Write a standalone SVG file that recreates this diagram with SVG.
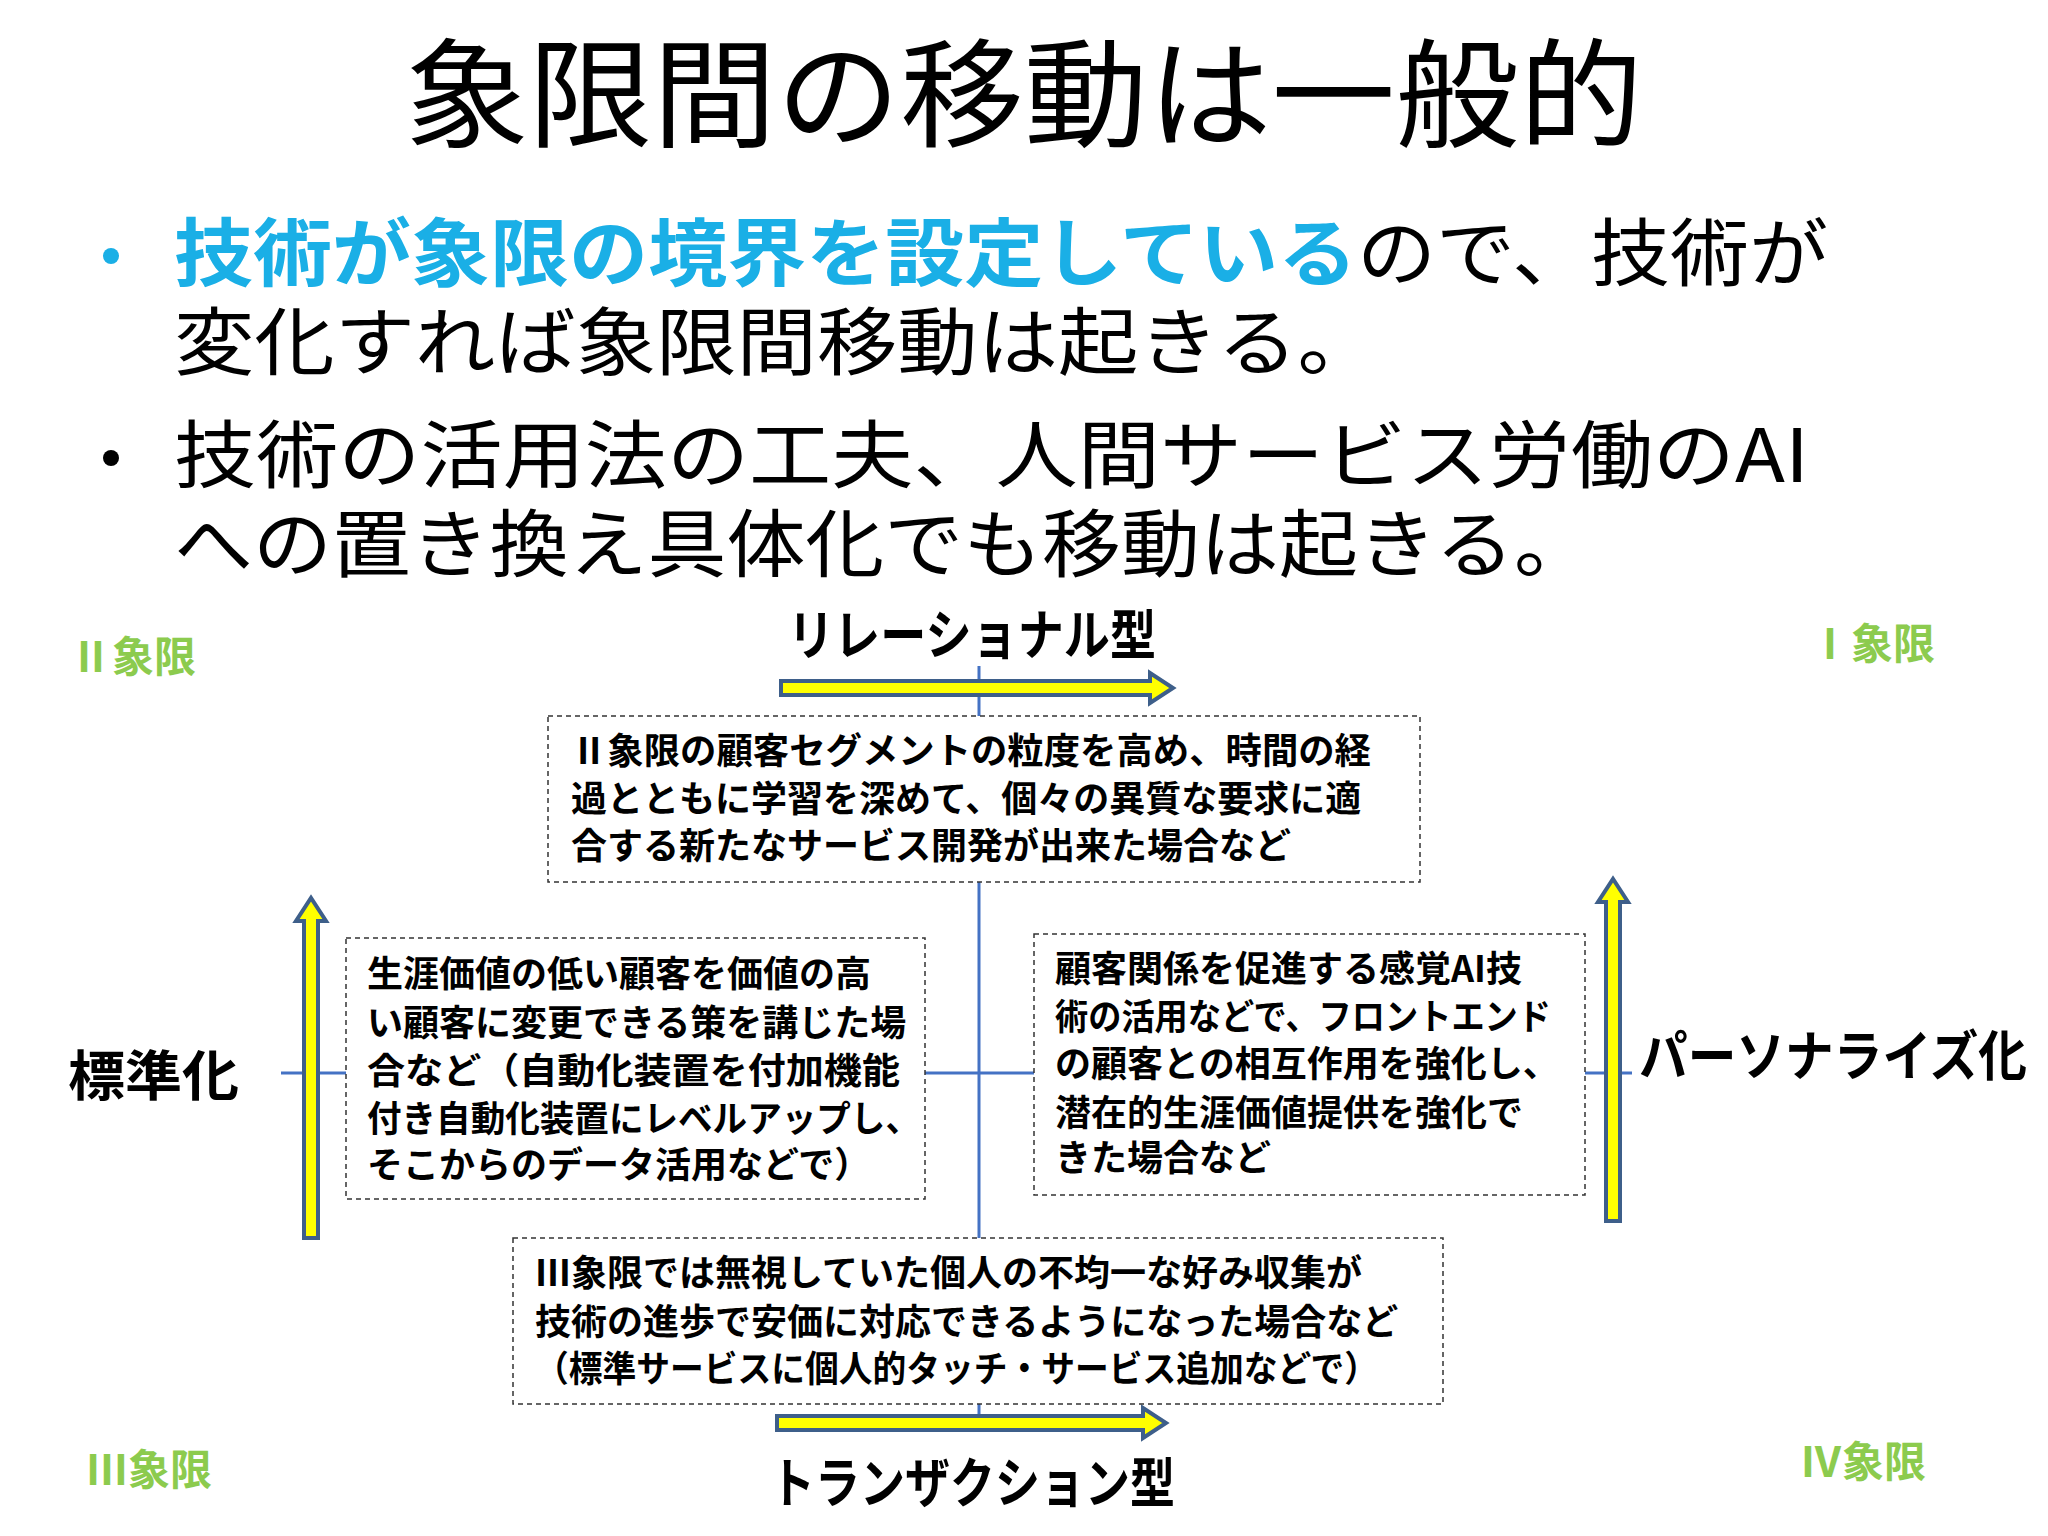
<svg xmlns="http://www.w3.org/2000/svg" width="2048" height="1536" viewBox="0 0 2048 1536">
<style>
text{font-family:"Noto Sans CJK JP","Noto Sans",sans-serif}
.t{font-size:118px}
.b{font-size:74px}
.bl{fill:#1AAFE6;font-weight:bold}
.bx{fill:#fff;stroke:#333;stroke-width:1.5;stroke-dasharray:5,4}
.bt{font-size:36px;font-weight:bold}
.ax{font-size:54px;font-weight:bold}
.q{font-size:42px;font-weight:bold;fill:#8CCB4E}
.ar{fill:#FFFF00;stroke:#3E5F8A;stroke-width:4}
.ln{stroke:#4472C4;stroke-width:3;fill:none}
</style>
<rect width="2048" height="1536" fill="#fff"/>
<text class="t" x="405" y="138" textLength="1238" lengthAdjust="spacingAndGlyphs">象限間の移動は一般的</text>
<circle cx="111" cy="256" r="8" fill="#1AAFE6"/>
<text class="b" x="174" y="280" textLength="1654" lengthAdjust="spacingAndGlyphs"><tspan class="bl">技術が象限の境界を設定している</tspan>ので、技術が</text>
<text class="b" x="174" y="369" textLength="1204" lengthAdjust="spacingAndGlyphs">変化すれば象限間移動は起きる。</text>
<circle cx="111" cy="458" r="8" fill="#000"/>
<text class="b" x="174" y="482" textLength="1635" lengthAdjust="spacingAndGlyphs">技術の活用法の工夫、人間サービス労働のAI</text>
<text class="b" x="174" y="571" textLength="1419" lengthAdjust="spacingAndGlyphs">への置き換え具体化でも移動は起きる。</text>
<g id="connectors">
<line class="ln" x1="979" y1="666" x2="979" y2="1423"/>
<line class="ln" x1="281" y1="1073" x2="1632" y2="1073"/>
<polygon class="ar" points="781,681 1150,681 1150,673 1173,688 1150,703 1150,695 781,695"/>
<polygon class="ar" points="777,1416 1143,1416 1143,1408 1166,1423 1143,1438 1143,1430 777,1430"/>
<polygon class="ar" points="304,1238 304,921 296,921 311,898 326,921 318,921 318,1238"/>
<polygon class="ar" points="1606,1221 1606,902 1598,902 1613,879 1628,902 1620,902 1620,1221"/>
</g>
<g id="axis-top"><text class="ax" x="788" y="655" textLength="368" lengthAdjust="spacingAndGlyphs">リレーショナル型</text></g>
<g id="axis-bottom"><text class="ax" x="770" y="1503" textLength="405" lengthAdjust="spacingAndGlyphs">トランザクション型</text></g>
<g id="axis-left"><text class="ax" x="68" y="1096" textLength="171" lengthAdjust="spacingAndGlyphs">標準化</text></g>
<g id="axis-right"><text class="ax" x="1639" y="1076" textLength="388" lengthAdjust="spacingAndGlyphs">パーソナライズ化</text></g>
<g id="q2"><text class="q" x="70" y="672">Ⅱ象限</text></g>
<g id="q1"><text class="q" x="1809" y="659">Ⅰ象限</text></g>
<g id="q3"><text class="q" x="86" y="1485">Ⅲ象限</text></g>
<g id="q4"><text class="q" x="1800" y="1477">Ⅳ象限</text></g>
<g id="box-top"><rect class="bx" x="548" y="716" width="872" height="166"/>
<text class="bt" x="571" y="764" textLength="800" lengthAdjust="spacingAndGlyphs">Ⅱ象限の顧客セグメントの粒度を高め、時間の経</text>
<text class="bt" x="571" y="812">過とともに学習を深めて、個々の異質な要求に適</text>
<text class="bt" x="571" y="859">合する新たなサービス開発が出来た場合など</text></g>
<g id="box-left"><rect class="bx" x="346" y="938" width="579" height="261"/>
<text class="bt" x="367" y="987">生涯価値の低い顧客を価値の高</text>
<text class="bt" x="367" y="1036">い顧客に変更できる策を講じた場</text>
<text class="bt" x="367" y="1084" textLength="533" lengthAdjust="spacingAndGlyphs">合など（自動化装置を付加機能</text>
<text class="bt" x="367" y="1132" textLength="553" lengthAdjust="spacingAndGlyphs">付き自動化装置にレベルアップし、</text>
<text class="bt" x="367" y="1178">そこからのデータ活用などで）</text></g>
<g id="box-right"><rect class="bx" x="1034" y="934" width="551" height="261"/>
<text class="bt" x="1055" y="982">顧客関係を促進する感覚AI技</text>
<text class="bt" x="1055" y="1030" textLength="496" lengthAdjust="spacingAndGlyphs">術の活用などで、フロントエンド</text>
<text class="bt" x="1055" y="1077">の顧客との相互作用を強化し、</text>
<text class="bt" x="1055" y="1126">潜在的生涯価値提供を強化で</text>
<text class="bt" x="1055" y="1171">きた場合など</text></g>
<g id="box-bottom"><rect class="bx" x="513" y="1238" width="930" height="166"/>
<text class="bt" x="535" y="1286">Ⅲ象限では無視していた個人の不均一な好み収集が</text>
<text class="bt" x="535" y="1335">技術の進歩で安価に対応できるようになった場合など</text>
<text class="bt" x="535" y="1382" textLength="843" lengthAdjust="spacingAndGlyphs">（標準サービスに個人的タッチ・サービス追加などで）</text></g>
</svg>
